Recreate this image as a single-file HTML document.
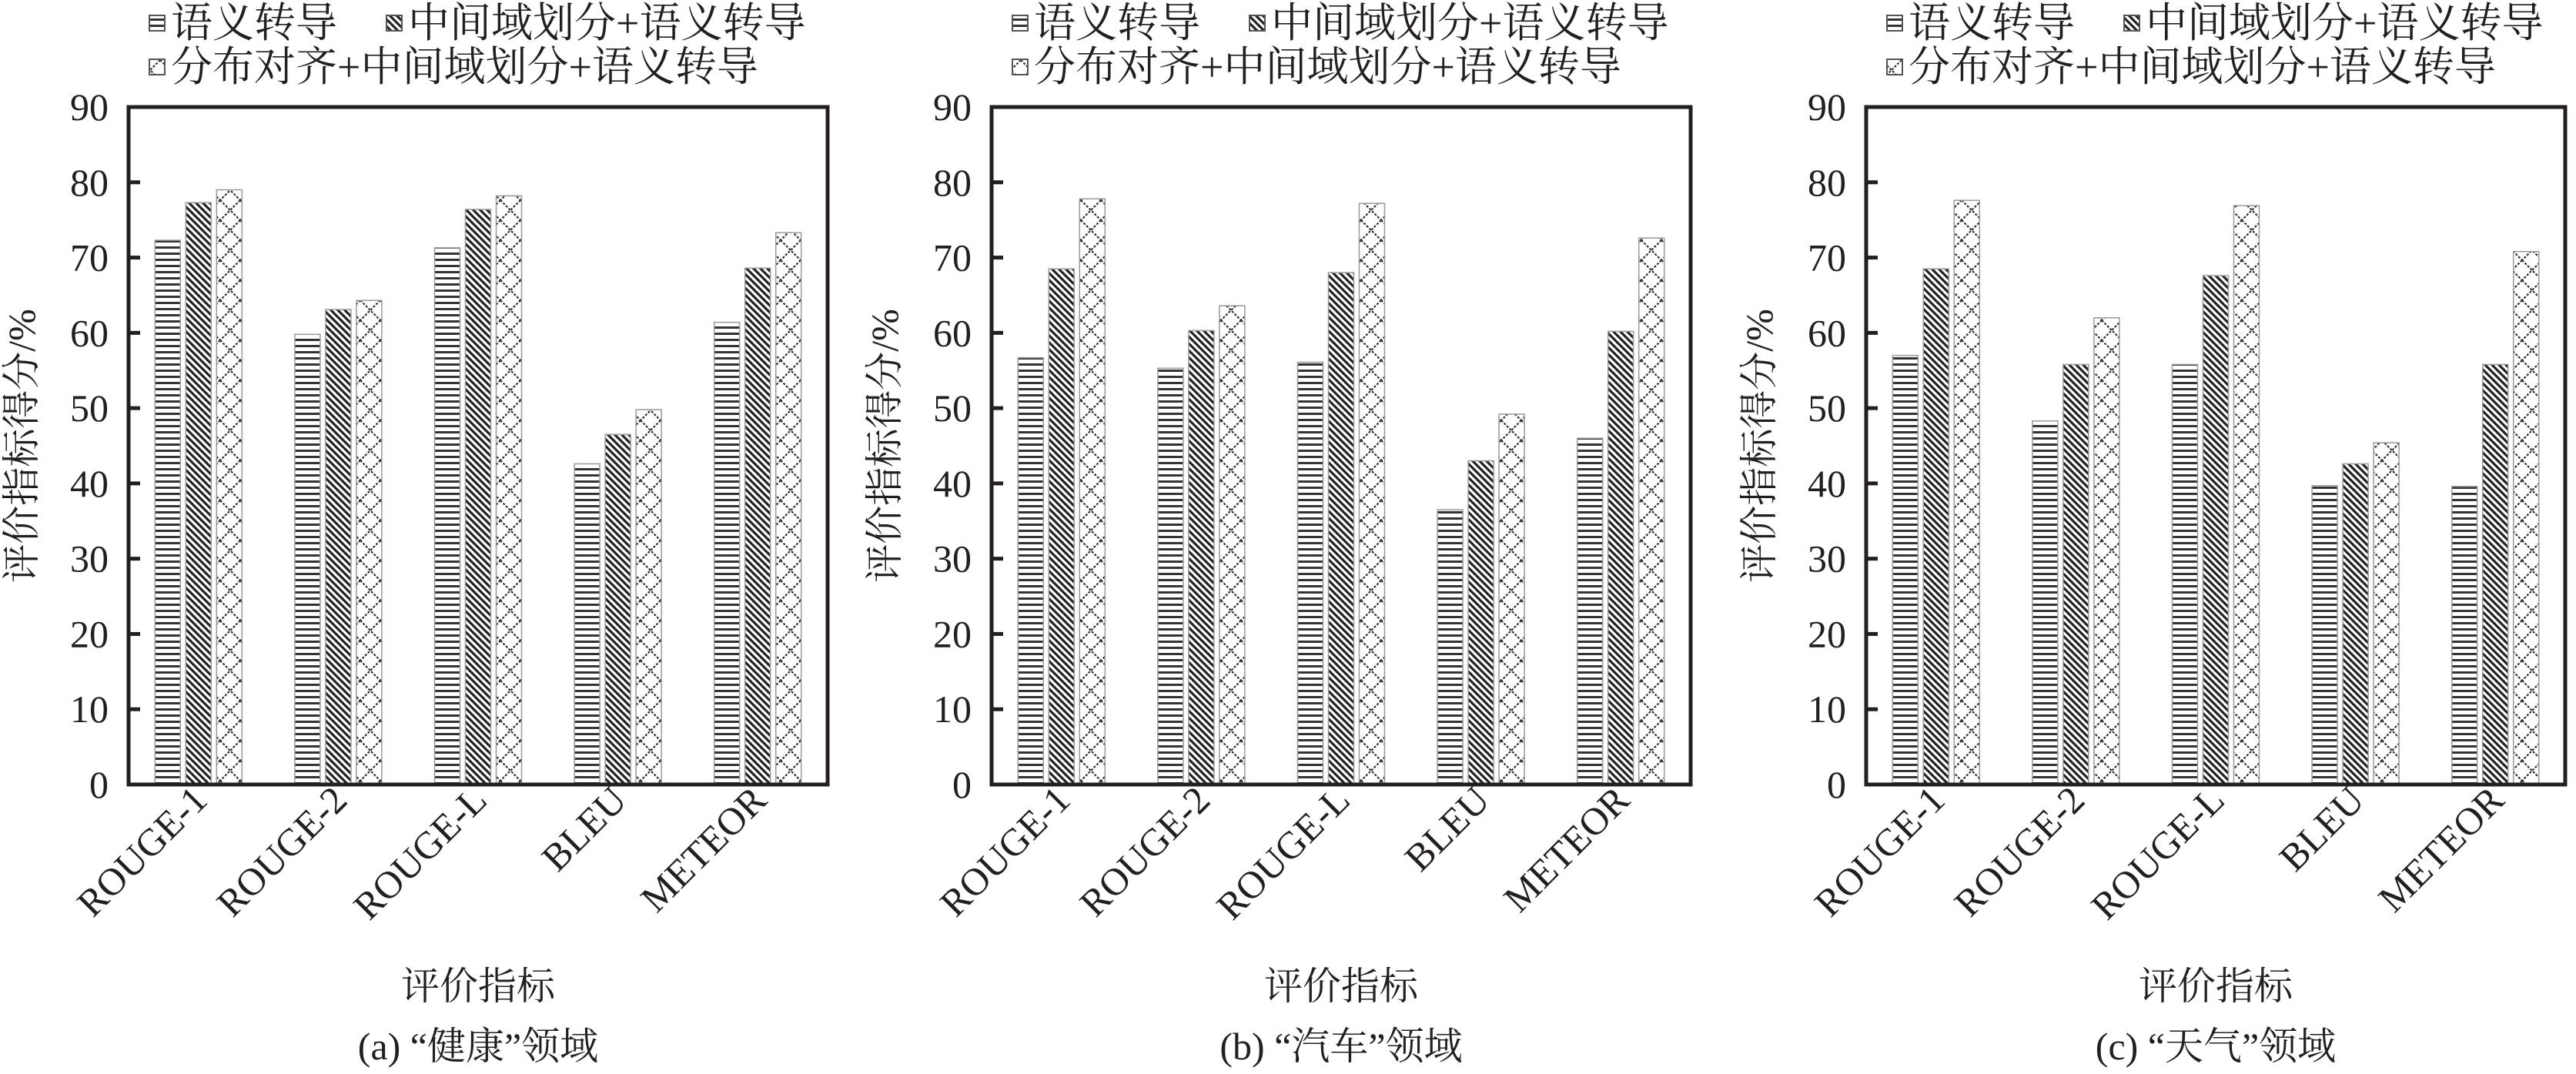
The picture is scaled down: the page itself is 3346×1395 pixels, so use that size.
<!DOCTYPE html>
<html><head><meta charset="utf-8">
<style>
html,body{margin:0;padding:0;background:#fff;}
svg{display:block;}
text{fill:#231f20;}
.tick{font-family:"Liberation Serif",serif;font-size:50px;}
.cjk{font-family:"Liberation Serif","Noto Serif CJK SC","Noto Sans CJK SC",serif;font-size:50px;}
.leg{font-family:"Liberation Serif","Noto Serif CJK SC","Noto Sans CJK SC",serif;font-size:54px;}
</style></head>
<body>
<svg id="chart" width="3346" height="1395" viewBox="0 0 3346 1395" xmlns="http://www.w3.org/2000/svg">
<defs>
<pattern id="pH" patternUnits="userSpaceOnUse" width="10" height="8"><rect width="10" height="8" fill="#fff"/><rect y="0" width="10" height="3" fill="#333"/></pattern>
<pattern id="pD" patternUnits="userSpaceOnUse" width="9" height="9"><rect width="9" height="9" fill="#fff"/><path d="M-2,-2 L11,11 M-2,7 L2,11 M7,-2 L11,2" stroke="#222" stroke-width="3.2"/></pattern>
<pattern id="pX" patternUnits="userSpaceOnUse" width="26" height="26"><rect width="26" height="26" fill="#fff"/><path d="M0,0 L26,26 M26,0 L0,26" stroke="#333" stroke-width="2.2" stroke-dasharray="3,2"/></pattern>
</defs>
<g id="root"></g>
</svg>
<script>
const categories = ["ROUGE-1","ROUGE-2","ROUGE-L","BLEU","METEOR"];
const seriesNames = ["语义转导","中间域划分+语义转导","分布对齐+中间域划分+语义转导"];
const yTicks = [0,10,20,30,40,50,60,70,80,90];
const healthBase = [72.3,59.8,71.3,42.6,61.4];
const healthMid = [77.3,63.1,76.4,46.5,68.6];
const healthFull = [79.0,64.3,78.2,49.8,73.3];
const carBase = [56.7,55.3,56.1,36.5,46.0];
const carMid = [68.5,60.3,68.0,43.0,60.2];
const carFull = [77.8,63.6,77.2,49.2,72.6];
const weatherBase = [57.0,48.3,55.8,39.7,39.6];
const weatherMid = [68.5,55.8,67.6,42.6,55.8];
const weatherFull = [77.6,62.0,76.9,45.4,70.8];
const captions = ["(a) \u201c健康\u201d领域","(b) \u201c汽车\u201d领域","(c) \u201c天气\u201d领域"];

{
const NS="http://www.w3.org/2000/svg";
const root=document.getElementById('root');
function mk(tag,attrs,parent){const e=document.createElementNS(NS,tag);for(const k in attrs)e.setAttribute(k,attrs[k]);(parent||root).appendChild(e);return e;}
const fills=["url(#pH)","url(#pD)","url(#pX)"];
const panels=[
 {left:167,data:[healthBase,healthMid,healthFull],name:"health"},
 {left:1288,data:[carBase,carMid,carFull],name:"car"},
 {left:2424,data:[weatherBase,weatherMid,weatherFull],name:"weather"}
];
const plotTop=139,plotBottom=1019,W=908,yMax=90;
panels.forEach((p,pi)=>{
  const g=mk('g',{});
  
  
  const L=p.left;
  const y=v=>plotBottom-(v/yMax)*(plotBottom-plotTop);
  const band=W/categories.length;
  const xc=i=>L+band*(i+0.5);
  const bw=33,step=40;
  p.data.forEach((ser,si)=>{
    ser.forEach((v,ci)=>{
      const r=mk('rect',{x:xc(ci)+(si-1)*step-bw/2,y:y(v),width:bw,height:plotBottom-y(v),fill:fills[si],stroke:"#9a9a9a","stroke-width":1.5},g);
      
      
    });
  });
  const fr=mk('rect',{x:L,y:plotTop,width:W,height:plotBottom-plotTop,fill:"none",stroke:"#231f20","stroke-width":5},g);
  
  
  yTicks.forEach(t=>{
    const tl=mk('line',{x1:L,x2:L+15,y1:y(t),y2:y(t),stroke:"#231f20","stroke-width":5},g);
    
    
    const tx=mk('text',{x:L-26,y:y(t)+17,"text-anchor":"end",class:"tick"},g);
    tx.textContent=t;
    
    
  });
  categories.forEach((c,ci)=>{
    const ax=xc(ci)+14,ay=1042;
    const tx=mk('text',{x:ax,y:ay,"text-anchor":"end",class:"tick",transform:`rotate(-45 ${ax} ${ay})`},g);
    tx.textContent=c;
    
    
  });
  const cy=(plotTop+plotBottom)/2;
  const yt=mk('text',{x:L-122,y:cy,"text-anchor":"middle",class:"cjk",transform:`rotate(-90 ${L-122} ${cy})`},g);
  yt.textContent="评价指标得分/%";
  
  
  const xt=mk('text',{x:L+W/2,y:1298,"text-anchor":"middle",class:"cjk"},g);
  xt.textContent="评价指标";
  
  
  const cp=mk('text',{x:L+W/2,y:1376,"text-anchor":"middle",class:"cjk"},g);
  cp.textContent=captions[pi];
  
  
  const lg=mk('g',{},g);
  
  
  const pos=[[L+27,30],[L+335,30],[L+27,87]];
  seriesNames.forEach((n,si)=>{
    const sw=mk('rect',{x:pos[si][0],y:pos[si][1]-10,width:20,height:20,fill:fills[si],stroke:"#555","stroke-width":2},lg);
    
    
    const t=mk('text',{x:pos[si][0]+28,y:pos[si][1]+18,class:"leg"},lg);
    t.textContent=n;
    
    
  });
});
}
</script>
</body></html>
